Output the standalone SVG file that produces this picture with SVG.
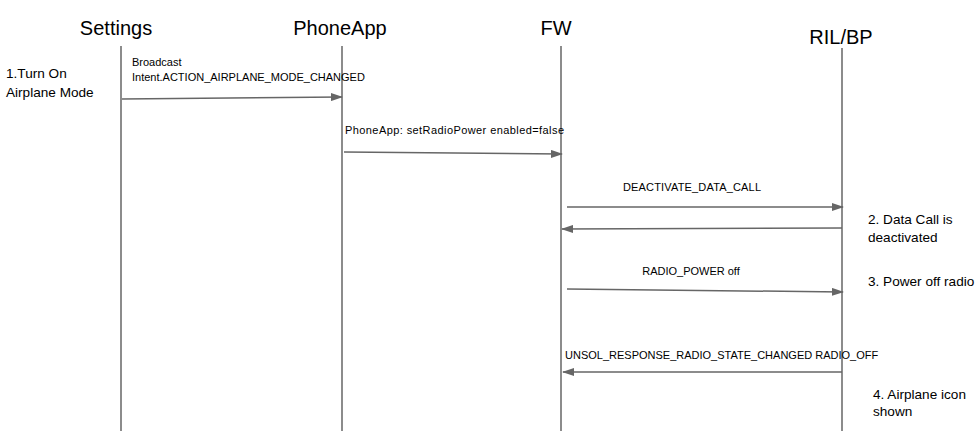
<svg xmlns="http://www.w3.org/2000/svg" width="979" height="431" viewBox="0 0 979 431">
<style>
.hdr{font-family:"Liberation Sans",Arial,sans-serif;font-size:20px;fill:#000}
.lbl{font-family:"Liberation Sans",Arial,sans-serif;font-size:11px;fill:#000}
.note{font-family:"Liberation Sans",Arial,sans-serif;font-size:13.6px;fill:#000}
.life{stroke:#666;stroke-width:1.5;fill:none}
.msg{stroke:#666;stroke-width:1.5;fill:none;marker-end:url(#ah)}
</style>
<defs>
<marker id="ah" markerWidth="12" markerHeight="8" refX="11" refY="4" orient="auto" markerUnits="userSpaceOnUse">
<path d="M0,0 L12,4 L0,8 Z" fill="#666"/>
</marker>
</defs>
<rect width="979" height="431" fill="#fff"/>
<g id="settings">
<text class="hdr" x="116" y="35" text-anchor="middle">Settings</text>
<line class="life" x1="121" y1="46" x2="121" y2="431"/>
</g>
<g id="phoneapp">
<text class="hdr" x="340" y="35" text-anchor="middle">PhoneApp</text>
<line class="life" x1="342" y1="46" x2="342" y2="431"/>
</g>
<g id="fw">
<text class="hdr" x="556" y="35" text-anchor="middle">FW</text>
<line class="life" x1="561" y1="46" x2="561" y2="431"/>
</g>
<g id="rilbp">
<text class="hdr" x="841" y="44" text-anchor="middle">RIL/BP</text>
<line class="life" x1="842" y1="48" x2="842" y2="431"/>
</g>
<g id="notes">
<text class="note" x="6" y="78">1.Turn On</text>
<text class="note" x="6" y="97">Airplane Mode</text>
<text class="note" x="868" y="224">2. Data Call is</text>
<text class="note" x="868" y="242">deactivated</text>
<text class="note" x="868" y="286">3. Power off radio</text>
<text class="note" x="873" y="399">4. Airplane icon</text>
<text class="note" x="873" y="416">shown</text>
</g>
<g id="connectors">
<line class="msg" x1="122" y1="99" x2="342" y2="97"/>
<text class="lbl" x="132" y="66">Broadcast</text>
<text class="lbl" x="132" y="81">Intent.ACTION_AIRPLANE_MODE_CHANGED</text>
<line class="msg" x1="344" y1="152" x2="562" y2="154"/>
<text class="lbl" x="345" y="134" textLength="219" lengthAdjust="spacing">PhoneApp: setRadioPower enabled=false</text>
<line class="msg" x1="567" y1="207" x2="843" y2="207"/>
<text class="lbl" x="623" y="191" textLength="138" lengthAdjust="spacing">DEACTIVATE_DATA_CALL</text>
<line class="msg" x1="842" y1="228" x2="562" y2="229"/>
<line class="msg" x1="567" y1="289" x2="843" y2="292"/>
<text class="lbl" x="691" y="275" text-anchor="middle">RADIO_POWER off</text>
<line class="msg" x1="842" y1="372" x2="563" y2="372"/>
<text class="lbl" x="565" y="359">UNSOL_RESPONSE_RADIO_STATE_CHANGED RADIO_OFF</text>
</g>
</svg>
